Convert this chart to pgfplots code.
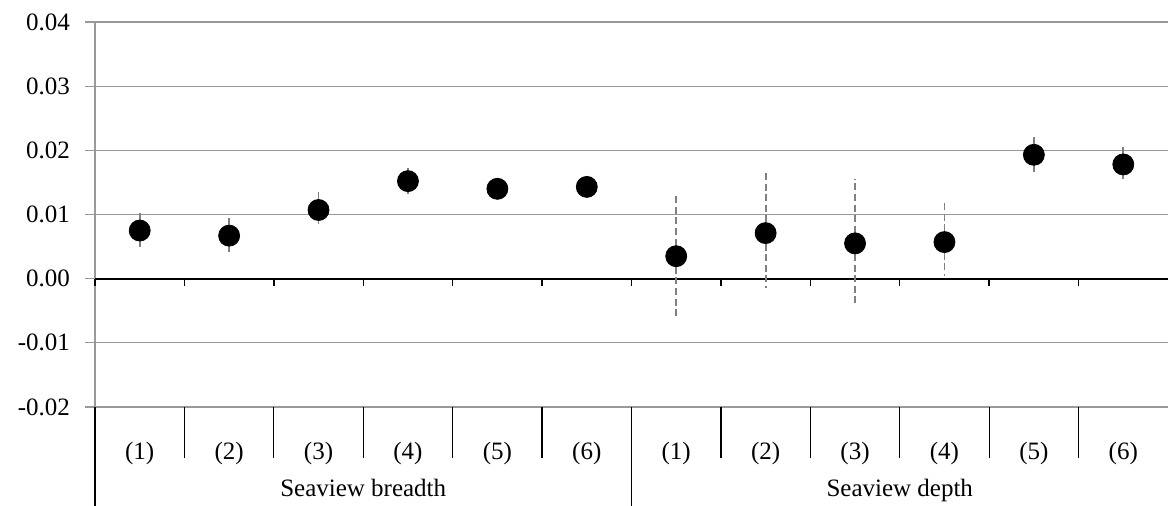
\documentclass[border=0pt]{standalone}
\usepackage{fontspec}
\setmainfont{Liberation Serif}
\usepackage{pgfplots}
\usepackage{pgfplotstable}
\pgfplotsset{compat=1.18}

% point estimates with upper / lower half-widths of the intervals
\pgfplotstableread{
x  y       ep      em
0  0.0075  0.0028  0.0025
1  0.0067  0.0027  0.0026
2  0.0107  0.0031  0.0022
3  0.0152  0.0021  0.0020
4  0.0140  0.0010  0.0010
5  0.0143  0.0010  0.0010
6  0.0035  0.0097  0.0096
7  0.0071  0.0093  0.0085
8  0.0055  0.0101  0.0098
9  0.0057  0.0061  0.0053
10 0.0193  0.0032  0.0032
11 0.0178  0.0031  0.0023
}\estimates

\begin{document}
\begin{tikzpicture}
\useasboundingbox (-47.5pt,-49.5pt) rectangle (536.5pt,203.5pt);
\begin{axis}[
  at={(0,0)}, anchor=south west,
  scale only axis, width=536.5pt, height=192.5pt,
  xmin=-0.5, xmax=11.5, ymin=-0.02, ymax=0.04,
  axis y line=left, axis x line=bottom,
  axis line style={-},
  y axis line style={draw=black!40, line width=0.6pt},
  x axis line style={draw=none},
  ytick={-0.02,-0.01,0,0.01,0.02,0.03,0.04},
  scaled y ticks=false,
  yticklabel style={xshift=-4pt,
    /pgf/number format/fixed, /pgf/number format/fixed zerofill,
    /pgf/number format/precision=2, /pgf/number format/assume math mode=true},
  ytick style={draw=black!40, line width=0.6pt},
  tick align=outside, major tick length=5pt,
  ymajorgrids, grid style={draw=black!40, line width=0.6pt},
  xtick={0,...,11},
  xticklabels={(1),(2),(3),(4),(5),(6),(1),(2),(3),(4),(5),(6)},
  xtick style={draw=none},
  xticklabel style={anchor=base, yshift=-21.5pt},
  tick label style={font=\fontsize{12.5}{15}\selectfont},
  clip=false,
]
% zero line with category ticks
\draw[black, line width=0.9pt] (axis cs:-0.5,0) -- (axis cs:11.5,0);
\pgfplotsinvokeforeach{-0.5,0.5,1.5,2.5,3.5,4.5,5.5,6.5,7.5,8.5,9.5,10.5}{
  \draw[black, line width=0.7pt] (axis cs:#1,0) -- ++(0pt,-3.5pt);
}
% category separators below the plot
\pgfplotsinvokeforeach{0.5,1.5,2.5,3.5,4.5,6.5,7.5,8.5,9.5,10.5}{
  \draw[black, line width=0.6pt] (axis cs:#1,-0.02) -- ++(0pt,-25.5pt);
}
\pgfplotsinvokeforeach{-0.5,5.5}{
  \draw[black, line width=0.6pt] (axis cs:#1,-0.02) -- ++(0pt,-49.5pt);
}
\node[anchor=base, font=\fontsize{12.5}{15}\selectfont, yshift=-45pt] at (axis cs:2.5,-0.02) {Seaview breadth};
\node[anchor=base, font=\fontsize{12.5}{15}\selectfont, yshift=-45pt] at (axis cs:8.5,-0.02) {Seaview depth};

\addplot[only marks, mark=*, mark size=5.25pt, black,
  error bars/.cd, y dir=both, y explicit, error mark=none,
  error bar style={draw=black!50, line width=0.9pt, dash pattern=on 3.5pt off 1.8pt}]
  table[x=x, y=y, y error plus=ep, y error minus=em] {\estimates};
\end{axis}
\end{tikzpicture}
\end{document}
